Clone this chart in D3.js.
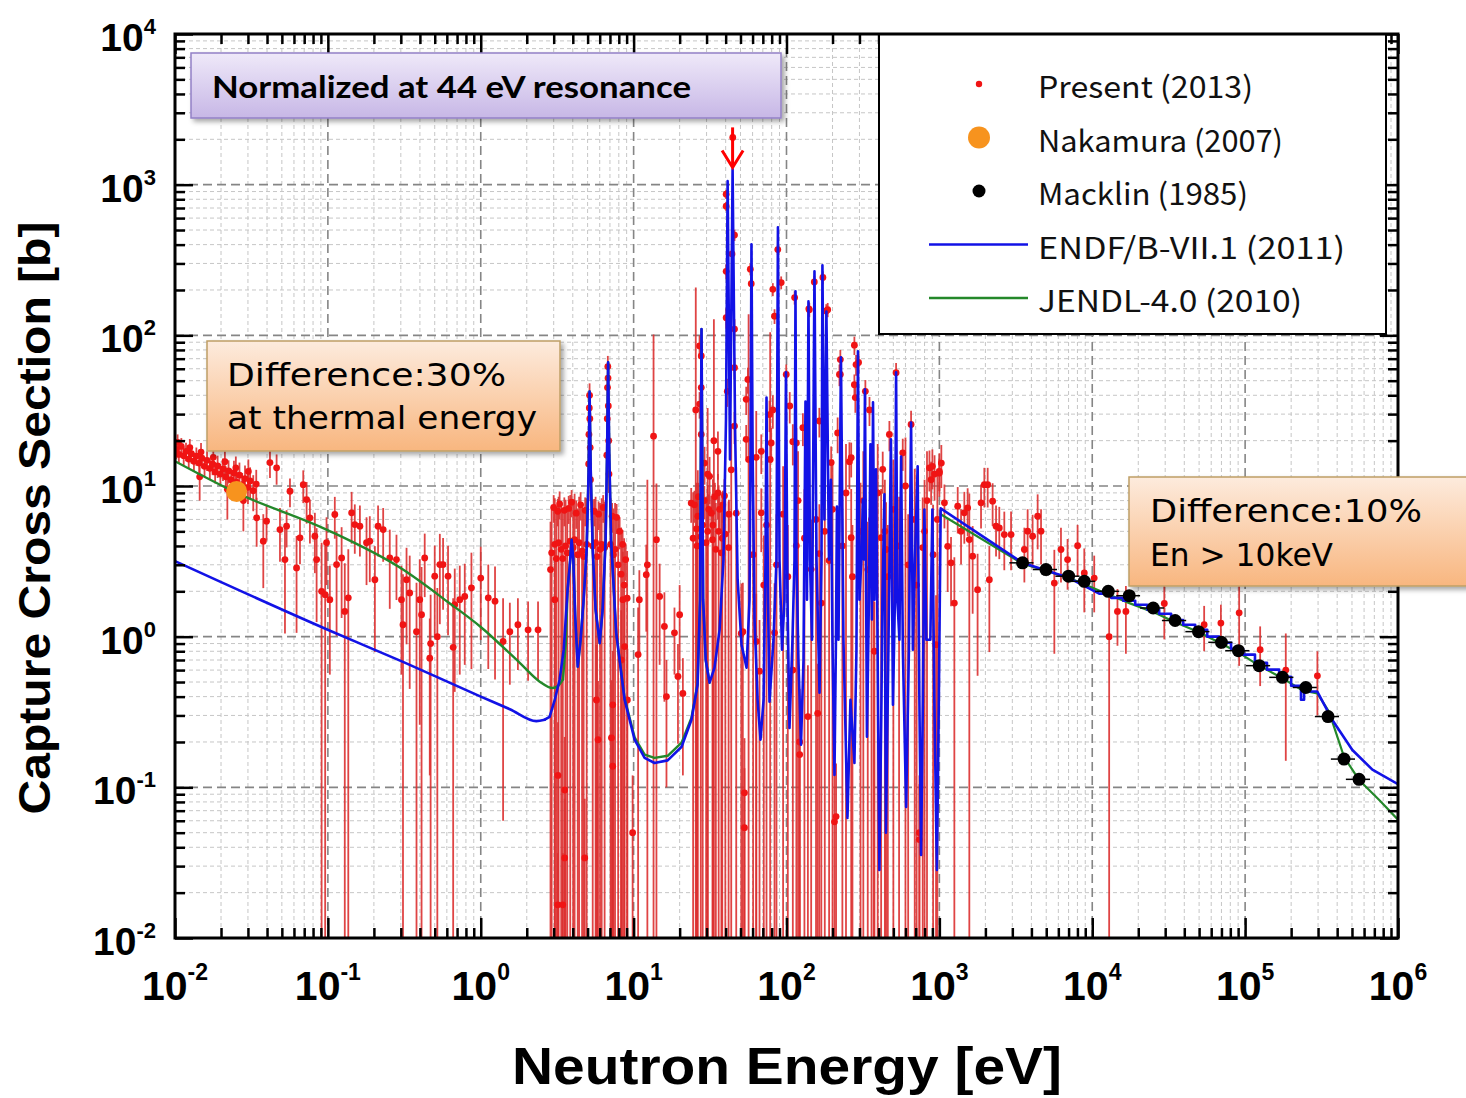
<!DOCTYPE html>
<html>
<head>
<meta charset="utf-8">
<script src="https://cdn.jsdelivr.net/npm/d3@7"></script>
<style>
  html, body { margin: 0; padding: 0; background: #fff; }
  svg { display: block; }
</style>
</head>
<body>
<svg id="chart" width="1466" height="1098"></svg>
<script>
// ---------------- Axis ticks ----------------
const xMajor = [1e-2, 1e-1, 1e0, 1e1, 1e2, 1e3, 1e4, 1e5, 1e6];
const xExp   = ["-2", "-1", "0", "1", "2", "3", "4", "5", "6"];
const yMajor = [1e-2, 1e-1, 1e0, 1e1, 1e2, 1e3, 1e4];
const yExp   = ["-2", "-1", "0", "1", "2", "3", "4"];

// ---------------- Present (2013): [energy eV, sigma b, error b] ----------------
const presentThermal = [
  [0.0102,17.5,2.5],[0.0104,19.5,2.5],[0.0106,16.2,2.2],[0.0110,18.3,2.5],[0.0114,15.9,2.2],
  [0.0118,17.0,2.4],[0.0123,15.1,2.0],[0.0125,18.0,2.5],[0.0128,16.4,2.3],[0.0133,14.6,2.0],
  [0.0138,15.8,2.2],[0.0144,14.2,2.0],[0.0145,11.5,3.5],[0.0148,16.8,2.5],[0.0150,15.3,2.2],
  [0.0156,13.5,2.0],[0.0162,14.8,2.2],[0.0169,13.1,2.0],[0.0176,14.0,2.2],[0.0178,15.5,2.5],
  [0.0183,12.4,2.0],[0.0190,13.6,2.3],[0.0198,12.0,2.0],[0.0206,13.0,2.2],[0.0212,14.5,2.5],
  [0.0215,11.5,2.0],[0.0220,9.5,3.5],[0.0224,12.6,2.2],[0.0233,11.0,2.0],[0.0243,12.2,2.5],
  [0.0250,13.2,2.5],[0.0253,10.6,2.0],[0.0264,11.8,2.5],[0.0275,10.2,2.0],[0.0280,8.0,3.0],
  [0.0287,11.2,2.5],[0.0300,9.8,2.2],[0.0302,12.5,2.5],[0.0310,10.8,2.5],[0.0325,9.3,2.5],
  [0.0340,10.3,2.5],
  [0.0342,6.15,2.2],[0.0378,4.30,2.2],[0.0397,5.84,1.5],[0.0418,14.3,3],[0.0462,13.2,3],
  [0.0486,5.14,2],[0.0524,3.25,2.2],[0.0537,5.41,1.5],[0.0565,9.23,2],[0.0624,2.86,1.8],
  [0.0657,4.53,1.5],[0.069,10.2,2.5],[0.0726,8.13,2.5],[0.0763,6.15,2],[0.0822,4.64,2],
  [0.0844,3.25,2],[0.091,2.0,2.2],[0.096,1.9,2.1],[0.098,4.2,2],[0.103,1.76,1.2],[0.111,6.47,2],
  [0.114,3.01,2],[0.123,3.33,2],[0.129,1.47,1.6],[0.136,1.81,2.0],[0.143,6.64,2.5],
  [0.150,5.55,2],[0.162,5.41,2],[0.179,4.2,2],[0.188,4.30,2],[0.203,2.39,1.6],[0.213,5.41,2],
  [0.230,5.14,2],[0.254,3.33,1.8],[0.281,3.25,1.5],[0.303,1.76,1.2],[0.31,1.2,1.4],
  [0.327,2.39,1.5],[0.343,1.95,1.5],[0.380,1.08,1.2],[0.399,1.76,1.5],[0.41,1.4,1.5],
  [0.430,3.33,1.5],[0.464,0.72,0.6],[0.47,0.9,1.0],[0.500,2.52,1.5],[0.52,1.0,1.1],
  [0.540,3.01,1.8],[0.567,3.01,1.5],[0.611,2.52,1.5],[0.66,0.85,0.95],[0.676,1.63,1.2],
  [0.729,1.76,1.2],[0.786,1.85,1.2],[0.869,2.11,1.5],[1.00,2.45,1.5],[1.12,1.81,1.2],
  [1.24,1.72,1.2],[1.40,0.93,0.87],[1.55,1.08,0.6],[1.75,1.20,0.6],[2.04,1.11,0.6],[2.37,1.11,0.6]
];

const presentResolved = [
  // 3 - 9 eV
  [2.91,3.6,3.7],[3.0,7.2,1.5],[3.05,4.1,4.2],[3.12,3.3,3.4],[3.19,6.8,1.4],[3.23,4.2,4.3],
  [3.28,7.6,1.6],[3.36,3.8,3.9],[3.44,3.3,3.4],[3.52,6.9,1.5],[3.59,4.0,4.1],[3.68,3.6,3.7],
  [3.76,7.1,1.5],[3.85,4.3,4.4],[3.93,7.8,1.6],[4.02,3.9,4.0],[4.11,4.4,4.5],[4.21,6.6,1.4],
  [4.31,3.5,3.6],[4.4,4.2,4.3],[4.5,7.5,1.6],[4.6,3.7,3.8],[4.71,3.4,3.5],[4.82,6.9,1.5],
  [4.93,4.1,4.2],[5.40,4.0,4.1],[5.52,6.8,1.4],[5.64,4.2,4.3],[5.77,3.4,3.5],[5.90,6.5,1.4],
  [6.03,3.8,3.9],[6.18,4.1,4.2],[6.32,7.2,1.5],[6.46,3.9,4.0],[7.07,4.1,4.2],[7.23,6.3,1.4],
  [7.39,3.5,3.6],[7.56,3.8,3.9],[7.74,6.2,1.4],[7.92,3.0,3.1],[8.10,5.0,1.2],[8.28,2.6,2.7],
  [8.47,4.1,1.0],[8.67,2.2,2.3],[8.87,3.25,0.9],[9.07,1.8,1.9],
  [5.08,14,4],[5.1,22,5],[5.13,33,7],[5.15,40,8],[5.17,28,6],[5.2,18,4],[5.22,11,3],
  [6.68,16,4],[6.72,28,6],[6.75,45,9],[6.78,62,11],[6.8,52,9],[6.83,34,7],[6.87,20,5],[6.9,12,3],
  [3.2,0.12,0.15],[3.54,0.096,0.12],[3.54,0.034,0.05],[3.19,0.0166,0.02],[3.44,0.0166,0.02],
  [4.79,0.034,0.05],[5.71,0.38,0.5],[5.85,0.207,0.3],[7.3,0.353,0.45],[7.3,0.138,0.2],
  [7.16,0.213,0.3],[8.3,0.70,0.8],[8.73,0.86,0.9],[8.5,1.76,1.9],[9.1,0.38,0.45],
  [9.85,0.05,0.07],[2.86,2.79,3],[3.05,1.76,2],
  // 10 - 25 eV
  [10.7,0.76,0.8],[10.9,1.76,1.0],[12.1,2.58,1.5],[12.3,3.0,8],[13.5,21.4,80],[14.1,4.4,6],
  [14.8,1.85,1.2],[15.9,1.17,0.8],[16.4,0.40,0.3],[18.5,1.06,0.5],[20.0,1.40,0.8],
  [19.5,0.545,0.35],[21.0,0.42,0.3],
  // 24 - 47 eV
  [27.0,85,15],[27.7,73,12],[27.7,45,8],[27.0,35,7],[27.7,22,5],[29.1,14.2,4],[31.4,11.6,4],
  [35.6,17,6],[35.6,9,3],[26.3,6.3,6.4],[23.8,7.7,2],[32.2,6.6,2],[25.5,32,176],[30.5,12,21],
  [33.5,20,108],
  [24.5,4.5,4.6],[25.0,7.5,1.8],[25.8,5.2,5.3],[26.0,4.0,4.1],[26.5,8.5,2],[27.5,4.6,4.7],
  [28.3,5.5,5.6],[29.0,8.0,2],[29.8,4.2,4.3],[30.5,5.0,5.1],[31.0,7.0,1.8],[32.8,4.4,4.5],
  [33.0,5.5,5.6],[34.0,8.5,2],[34.5,3.8,3.9],[36.0,5.0,5.1],[36.5,7.0,1.8],[37.5,3.6,3.7],
  [38.0,4.5,4.6],[38.3,7.5,1.8],[39.8,4.8,4.9],[41.8,3.9,4.0],[42.0,6.5,1.6],
  [40.3,864,60],[40.3,720,50],[40.3,266,30],[40.3,131,20],[41.0,42.5,9],[45.7,463,40],
  [45.7,110,18],[45.7,61,10],[45.7,25,6],[43.5,12.8,13],[39.3,8.6,2.5],[46.9,6.6,6.7],
  [44.5,2060,150],[44.0,347,35],
  // 50 - 1000 eV
  [58.0,275,25],[58.8,220,22],[55.9,51,10],[81.4,202,20],[83.5,134,15],[87.7,371,30],
  [92.3,224,22],[99.6,55,9],[113,178,18],[140,150,16],[152,226,22],[173,242,24],[182,145,16],
  [225,69,11],[225,55,9],[278,86,12],[296,66,10],[278,47,8],[328,42.5,8],[521,56.5,9],
  [54.5,37.6,8],[54.5,20.4,5],[68.4,17,5],[68.4,6.64,3],[77.4,29.8,7],[79.4,19.3,5],
  [105,34,8],[116,19.3,5],[128,24.4,6],[141,148,16],[164,27,6],[186,148,16],[196,14.3,4],
  [216,22.5,6],[222,55,9],[265,15.4,4],[285,64,10],[282,38.6,8],[349,32,7],[426,12.9,4],
  [471,22,5],[576,16.6,4],[653,25.6,6],[861,13.2,4],[883,11,3.5],[900,13.5,4],[930,12,4],
  [51.8,1.08,1.2],[63.4,0.93,1.0],[66.6,0.59,0.7],[53.1,0.092,0.12],[53.1,0.054,0.08],
  [83.5,1.06,1.2],[110,0.60,0.7],[138,0.295,0.35],[160,0.31,0.35],[122,0.20,0.25],
  [122,0.165,0.2],[169,1.67,1.8],[211,0.064,0.08],[376,0.80,0.9],[951,0.885,1.0],
  [740,0.05,0.07],
  [50.6,1.05,1.2],[63.4,15.5,16],[81.4,32,8],[110,19.7,6],[116,4.02,4.5],[164,3.56,4],
  [206,0.059,0.08],[258,14.5,5],[265,4.54,5],[340,2.79,3],[416,4.54,5],[448,3.79,4],
  [740,0.045,0.06],[778,3.9,4.5],[56.5,15,123],[78.2,15,90],
  [60.5,3.5,4],[71,2.2,2.5],[74,5.5,6],[86,3.0,3.5],[95,6.5,7],[102,2.5,3],[119,8,9],
  [131,4.5,5],[145,2.8,3.2],[156,6,7],[178,5,5.5],[190,3.2,3.6],[200,7,8],[232,4,4.5],
  [245,9,10],[270,2.5,3],[305,5,5.5],[318,8,9],[360,6,7],[372,3,3.5],[395,9,10],[440,5,6],
  [460,2.5,3],[500,7,8],[545,4,4.5],[600,10,11],[625,3,3.5],[690,6,7],[710,2.2,2.5],
  [800,5,6],[830,8,9],[910,3.5,4],[970,6,7]
];

const presentUnresolved = [
  [1000,12.2,3],[1000,12.5,4],[1030,14.2,4.5],[1079,7.73,2.5],[1133,3.98,2],[1192,3.09,1.5],
  [1253,1.67,1.7],[1318,7.34,2.5],[1386,5.01,2],[1456,6.64,2.5],[1531,7.16,2.5],
  [1570,4.41,4.5],[1651,3.42,2],[1778,2.05,1.5],[1873,7.73,2.5],[1968,10.2,3],[2070,10.2,3],
  [2123,2.39,1.6],[2230,7.93,2.5],[2348,5.41,2],[2466,5.27,2],[2659,4.76,2],[2944,4.76,2],
  [3597,3.79,1.5],[3779,5.01,2],[4073,4.64,1.8],[4394,6.3,2.5],[4624,5.01,2],[5649,2.27,1.5],
  [6243,3.79,1.5],[6896,3.25,1.2],[8020,4.02,1.5],[8870,2.65,1.2],[10300,2.45,1.0],
  [12900,1.0,1.05],[14620,1.47,0.6],[16600,1.47,0.7],[29600,1.66,0.7],[53950,1.20,0.4],
  [69400,1.23,0.4],[91400,1.44,0.8],[125400,0.82,0.35],[184500,0.60,0.45],[297000,0.55,0.25]
];

// ---------------- Nakamura (2007) thermal value ----------------
const nakamura = [[0.0253, 9.2]];

// ---------------- Macklin (1985): [energy eV, sigma b, half bin width eV] ----------------
const macklin = [
  [3499,3.09,630],[4980,2.79,900],[7000,2.52,1260],[8870,2.33,1600],[12730,2.0,2300],
  [17450,1.87,3100],[25050,1.55,4500],[34850,1.28,6300],[49550,1.08,8900],[70000,0.917,12600],
  [90400,0.807,16300],[123600,0.642,22200],[175400,0.537,31600],[249400,0.46,44900],
  [348600,0.295,62700],[443600,0.154,79800],[556000,0.113,100000]
];

// ---------------- ENDF/B-VII.1 (2011): [energy eV, sigma b] ----------------
const endfThermal = [
  [0.01,3.17],[0.098,1.12],[0.31,0.68],[1.0,0.40],[1.55,0.33],[2.31,0.275]
];
const endfResolved = [
  [2.62,0.281],[2.82,0.294],[3.05,0.381],[3.28,0.518],[3.49,0.82],[3.70,2.05],[3.85,3.25],
  [3.93,4.4],[4.03,3.25],[4.15,1.36],[4.31,0.632],[4.50,0.955],[4.71,1.76],[4.93,3.78],
  [5.08,12.9],[5.15,42.4],[5.24,12.9],[5.40,3.78],[5.64,1.51],[6.00,0.906],[6.27,1.51],
  [6.56,4.4],[6.71,17.5],[6.81,66.2],[6.92,17.5],[7.12,4.4],[7.69,1.06],[8.73,0.381],
  [10.15,0.207],[11.8,0.157],[13.7,0.145],[16.7,0.151],[20.6,0.186],[23.9,0.281],[26.2,0.48],
  [27.2,1.76],[27.8,110],[28.5,1.76],[29.6,0.703],[31.4,0.495],[33.8,0.622],[36.5,1.11],
  [38.7,3.25],[40.2,27.7],[41.2,1055],[42.7,15.0],[44.4,1268],[46.1,23.7],[47.9,2.39],
  [50.8,0.885],[54.8,0.622],[57.3,1.76],[58.2,17.5],[59.0,402],[60.0,17.5],[61.8,1.30],
  [64.7,0.381],[67.6,0.207],[70.8,0.381],[72.9,3.25],[74.0,38.7],[75.7,1.76],[77.4,0.37],
  [82.2,0.955],[86.0,3.25],[87.9,522],[90.0,3.25],[93.5,0.82],[97.0,1.76],[99.2,56.8],
  [101.5,1.76],[104.6,0.248],[109.4,0.955],[112.8,3.25],[114.5,196],[116.2,3.25],[119.7,0.703],
  [124.4,0.192],[129.2,0.703],[133.1,36.4],[136.1,1.76],[139.2,168],[142.4,3.25],[146.8,0.955],
  [152.4,266],[157.1,3.25],[164.4,0.425],[169.4,3.25],[171.8,292],[177,5.99],[182.4,144],
  [189.6,3.25],[195.4,11.0],[199.8,0.955],[206,0.121],[210.6,0.955],[213.8,7.31],[218.8,0.955],
  [227.1,71.4],[235.8,0.955],[250.5,0.0627],[262,0.381],[278.2,0.145],[286.8,0.82],[293.3,78.3],
  [300,1.76],[309,3.25],[316,8.13],[321,3.25],[326,43.8],[336,0.217],[346,1.76],[354,18.9],
  [362,1.30],[368,35.9],[376,1.76],[385,12.9],[393,1.30],[405,0.0283],[418,0.381],[424,1.76],
  [437,8.8],[447,0.050],[464,0.82],[482,20.4],[497,0.353],[512,1.76],[521,56.8],[531,1.76],
  [548,0.955],[562,15.7],[577,0.82],[606,0.0741],[632,0.82],[653,26.4],[671,0.82],[692,3.25],
  [721,13.5],[740,0.381],[759,0.0356],[780,0.381],[798,6.98],[822,0.955],[873,0.955],
  [900,6.98],[927,0.381],[963,0.0283],[992,0.381]
];
const endfUnresolved = [
  [1020,7.1],[3500,3.09],[7080,2.45],[11100,1.93],
  [13300,1.93],[13300,1.81],[15950,1.81],[15950,1.73],[19100,1.73],[19100,1.63],
  [22900,1.63],[22900,1.51],[27400,1.51],[27400,1.42],[32800,1.42],[32800,1.29],
  [39300,1.29],[39300,1.20],[47100,1.20],[47100,1.11],[56500,1.11],[56500,1.0],
  [67600,1.0],[67600,0.912],[80900,0.912],[80900,0.832],[97000,0.832],[97000,0.76],
  [116000,0.76],[116000,0.672],[139000,0.672],[139000,0.604],[167000,0.604],[167000,0.542],
  [200000,0.542],[200000,0.472],[232000,0.472],[232000,0.381],[243000,0.381],[243000,0.433],
  [296000,0.433],[372000,0.28],[503000,0.177],[680000,0.131],[1000000,0.105]
];

// ---------------- JENDL-4.0 (2010): [energy eV, sigma b] ----------------
const jendlThermal = [
  [0.01,14.6],[0.0253,9.0],[0.098,5.14],[0.31,2.79],[0.6,1.72],[1.0,1.16],[1.8,0.67],
  [2.43,0.503],[2.95,0.456],[3.2,0.47],[3.45,0.52]
];
const jendlResolved = [
  [3.45,0.52],[3.6,0.9],[3.70,2.05],[3.85,3.25],[3.93,4.4],[4.03,3.25],
  [4.15,1.36],[4.31,0.632],[4.50,0.955],[4.71,1.76],[4.93,3.78],[5.08,12.9],[5.15,42.4],
  [5.24,12.9],[5.40,3.78],[5.64,1.51],[6.00,0.906],[6.27,1.51],[6.56,4.4],[6.71,17.5],
  [6.81,66.2],[6.92,17.5],[7.12,4.4],[7.69,1.06],[8.73,0.39],[10.15,0.215],[11.8,0.165],
  [13.7,0.157],[16.7,0.162],[20.6,0.198],[23.9,0.29],[26.2,0.49],[27.2,1.76],[27.8,110],
  [28.5,1.76],[29.6,0.703],[31.4,0.495]
];
const jendlUnresolved = [
  [1020,6.5],[3500,3.05],[7080,2.45],[12900,1.9],[17500,1.67],[26100,1.43],[35200,1.24],
  [50000,1.07],[71100,0.89],[91400,0.78],[124000,0.64],[175500,0.53],[237000,0.44],
  [297000,0.42],[354000,0.317],[444000,0.159],[556000,0.112],[751000,0.0826],[1000000,0.061]
];

// ---------------- Annotation text ----------------
const legendLabels = ["Present (2013)", "Nakamura (2007)", "Macklin (1985)", "ENDF/B-VII.1 (2011)", "JENDL-4.0 (2010)"];
const normText = "Normalized at 44 eV resonance";
const noteThermal = ["Difference:30%", "at thermal energy"];
const noteFast = ["Difference:10%", "En > 10keV"];
const arrowE = 44.4;           // energy of the normalization resonance
const arrowSigma = [2400, 1300];

// =====================================================================
const svg = d3.select("#chart");
const L = 175, R = 1398, T = 34, B = 938;
const x = d3.scaleLog().domain([1e-2, 1e6]).range([L, R]);
const y = d3.scaleLog().domain([1e-2, 1e4]).range([B, T]);

const C = {
  red: "#f01414", redBar: "#dc3030", blue: "#1212e6", green: "#24882a",
  orange: "#f7931e", black: "#000"
};
const tickFont = "'Liberation Sans', Arial, Helvetica, sans-serif";

svg.append("rect").attr("width", 1466).attr("height", 1098).attr("fill", "#fff");

const defs = svg.append("defs");
defs.append("clipPath").attr("id", "plotClip")
  .append("rect").attr("x", L).attr("y", T).attr("width", R - L).attr("height", B - T);
const shadow = defs.append("filter").attr("id", "shadow")
  .attr("x", "-10%").attr("y", "-20%").attr("width", "130%").attr("height", "150%");
shadow.append("feDropShadow").attr("dx", 3).attr("dy", 3).attr("stdDeviation", 2.5)
  .attr("flood-color", "#000").attr("flood-opacity", 0.35);
function vGrad(id, c0, c1) {
  const g = defs.append("linearGradient").attr("id", id)
    .attr("x1", 0).attr("y1", 0).attr("x2", 0).attr("y2", 1);
  g.append("stop").attr("offset", "0%").attr("stop-color", c0);
  g.append("stop").attr("offset", "100%").attr("stop-color", c1);
}
vGrad("gradViolet", "#efe9f9", "#c7b7e6");
vGrad("gradPeach", "#fdebdd", "#f8b67f");

// minor tick positions (2..9 in every decade)
const minorX = [], minorY = [];
for (let e = -2; e < 6; e++) for (let k = 2; k <= 9; k++) minorX.push(k * Math.pow(10, e));
for (let e = -2; e < 4; e++) for (let k = 2; k <= 9; k++) minorY.push(k * Math.pow(10, e));

// ---------------- grid ----------------
const grid = svg.append("g");
function vGrid(vals, color, w, dash) {
  grid.append("g").selectAll("line").data(vals).join("line")
    .attr("x1", d => x(d)).attr("x2", d => x(d)).attr("y1", T).attr("y2", B)
    .attr("stroke", color).attr("stroke-width", w).attr("stroke-dasharray", dash);
}
function hGrid(vals, color, w, dash) {
  grid.append("g").selectAll("line").data(vals).join("line")
    .attr("y1", d => y(d)).attr("y2", d => y(d)).attr("x1", L).attr("x2", R)
    .attr("stroke", color).attr("stroke-width", w).attr("stroke-dasharray", dash);
}
vGrid(minorX, "#c6c6c6", 1, "4,3");
hGrid(minorY, "#c6c6c6", 1, "4,3");
vGrid(xMajor.slice(1, -1), "#858585", 1.6, "9,5");
hGrid(yMajor.slice(1, -1), "#858585", 1.6, "9,5");

// ---------------- data ----------------
const data = svg.append("g").attr("clip-path", "url(#plotClip)");
const present = presentThermal.concat(presentResolved, presentUnresolved);

data.append("g").selectAll("line").data(present).join("line")
  .attr("x1", d => x(d[0])).attr("x2", d => x(d[0]))
  .attr("y1", d => y(Math.min(d[1] + d[2], 1e4)))
  .attr("y2", d => (d[1] - d[2] > 1e-2 ? y(d[1] - d[2]) : B))
  .attr("stroke", C.redBar).attr("stroke-width", 1.8).attr("stroke-opacity", 0.9);
data.append("g").selectAll("circle").data(present).join("circle")
  .attr("cx", d => x(d[0])).attr("cy", d => y(d[1])).attr("r", 3.4)
  .attr("fill", C.red);

const line = d3.line().x(d => x(d[0])).y(d => y(d[1]));
const smooth = d3.line().x(d => x(d[0])).y(d => y(d[1])).curve(d3.curveMonotoneX);
function drawPath(pts, gen, color, w) {
  data.append("path").datum(pts).attr("d", gen)
    .attr("fill", "none").attr("stroke", color).attr("stroke-width", w)
    .attr("stroke-linejoin", "round").attr("stroke-linecap", "round");
}
drawPath(jendlThermal, smooth, C.green, 2.4);
drawPath(jendlResolved, line, C.green, 2.4);
drawPath(jendlUnresolved, line, C.green, 2.2);
drawPath(endfThermal.concat([endfResolved[0]]), smooth, C.blue, 2.6);
drawPath(endfResolved.concat(endfUnresolved), line, C.blue, 2.6);

// Macklin with energy bins
data.append("g").selectAll("line").data(macklin).join("line")
  .attr("x1", d => x(d[0] - d[2])).attr("x2", d => x(d[0] + d[2]))
  .attr("y1", d => y(d[1])).attr("y2", d => y(d[1]))
  .attr("stroke", C.black).attr("stroke-width", 1.5);
data.append("g").selectAll("circle").data(macklin).join("circle")
  .attr("cx", d => x(d[0])).attr("cy", d => y(d[1])).attr("r", 6.5).attr("fill", C.black);

// Nakamura thermal point
data.append("g").selectAll("circle").data(nakamura).join("circle")
  .attr("cx", d => x(d[0])).attr("cy", d => y(d[1])).attr("r", 10.5).attr("fill", C.orange);

// ---------------- ticks (inward) ----------------
function styleAxis(g) {
  g.select(".domain").remove();
  g.selectAll(".tick line").attr("stroke", "#000").attr("stroke-width", 2.5);
  g.selectAll(".tick text").remove();
}
const axes = svg.append("g");
axes.append("g").attr("transform", `translate(0,${B})`)
  .call(d3.axisBottom(x).tickValues(minorX).tickSize(-10).tickFormat("")).call(styleAxis);
axes.append("g").attr("transform", `translate(0,${B})`)
  .call(d3.axisBottom(x).tickValues(xMajor).tickSize(-20).tickFormat("")).call(styleAxis);
axes.append("g").attr("transform", `translate(0,${T})`)
  .call(d3.axisTop(x).tickValues(minorX).tickSize(-10).tickFormat("")).call(styleAxis);
axes.append("g").attr("transform", `translate(0,${T})`)
  .call(d3.axisTop(x).tickValues(xMajor).tickSize(-20).tickFormat("")).call(styleAxis);
axes.append("g").attr("transform", `translate(${L},0)`)
  .call(d3.axisLeft(y).tickValues(minorY).tickSize(-10).tickFormat("")).call(styleAxis);
axes.append("g").attr("transform", `translate(${L},0)`)
  .call(d3.axisLeft(y).tickValues(yMajor).tickSize(-18).tickFormat("")).call(styleAxis);
axes.append("g").attr("transform", `translate(${R},0)`)
  .call(d3.axisRight(y).tickValues(minorY).tickSize(-10).tickFormat("")).call(styleAxis);
axes.append("g").attr("transform", `translate(${R},0)`)
  .call(d3.axisRight(y).tickValues(yMajor).tickSize(-18).tickFormat("")).call(styleAxis);

// ---------------- legend ----------------
const lg = svg.append("g");
lg.append("rect").attr("x", 879).attr("y", T).attr("width", 507).attr("height", 300)
  .attr("fill", "#fff").attr("stroke", "#000").attr("stroke-width", 2);
const rowY = [84, 137.5, 191, 244.5, 298];
const lblW = [215, 245, 210, 307, 264];
lg.append("circle").attr("cx", 979).attr("cy", rowY[0]).attr("r", 3.2).attr("fill", C.red);
lg.append("circle").attr("cx", 979).attr("cy", rowY[1]).attr("r", 11).attr("fill", C.orange);
lg.append("circle").attr("cx", 979).attr("cy", rowY[2]).attr("r", 6.5).attr("fill", C.black);
lg.append("line").attr("x1", 929).attr("x2", 1028).attr("y1", rowY[3]).attr("y2", rowY[3])
  .attr("stroke", C.blue).attr("stroke-width", 2.6);
lg.append("line").attr("x1", 929).attr("x2", 1028).attr("y1", rowY[4]).attr("y2", rowY[4])
  .attr("stroke", C.green).attr("stroke-width", 2.6);
lg.selectAll("text").data(legendLabels).join("text")
  .attr("x", 1038).attr("y", (d, i) => rowY[i] + 14)
  .attr("font-family", "'Noto Sans CJK JP', 'DejaVu Sans', sans-serif")
  .attr("font-size", 30).attr("fill", "#111")
  .attr("textLength", (d, i) => lblW[i]).attr("lengthAdjust", "spacingAndGlyphs")
  .text(d => d);

// ---------------- frame ----------------
svg.append("rect").attr("x", L).attr("y", T).attr("width", R - L).attr("height", B - T)
  .attr("fill", "none").attr("stroke", "#000").attr("stroke-width", 3);

// ---------------- annotation boxes ----------------
const ann = svg.append("g");
ann.append("rect").attr("x", 191).attr("y", 53).attr("width", 590).attr("height", 65)
  .attr("fill", "url(#gradViolet)").attr("stroke", "#9380c6").attr("stroke-width", 1.5)
  .attr("filter", "url(#shadow)");
ann.append("text").attr("x", 212).attr("y", 97.5)
  .attr("font-family", "Lato, 'Open Sans', sans-serif").attr("font-weight", "bold")
  .attr("font-size", 31).attr("fill", "#000")
  .attr("textLength", 479).attr("lengthAdjust", "spacingAndGlyphs").text(normText);

const noteFont = "'DejaVu Sans', 'Noto Sans', sans-serif";
ann.append("rect").attr("x", 207).attr("y", 341).attr("width", 353).attr("height", 110)
  .attr("fill", "url(#gradPeach)").attr("stroke", "#bf9f66").attr("stroke-width", 1.5)
  .attr("filter", "url(#shadow)");
ann.selectAll("text.nt").data(noteThermal).join("text").attr("class", "nt")
  .attr("x", 227).attr("y", (d, i) => [386, 429][i])
  .attr("font-family", noteFont).attr("font-size", 32).attr("fill", "#000")
  .attr("textLength", (d, i) => [279, 310][i]).attr("lengthAdjust", "spacingAndGlyphs")
  .text(d => d);

ann.append("rect").attr("x", 1129).attr("y", 477).attr("width", 350).attr("height", 109)
  .attr("fill", "url(#gradPeach)").attr("stroke", "#bf9f66").attr("stroke-width", 1.5)
  .attr("filter", "url(#shadow)");
ann.selectAll("text.nf").data(noteFast).join("text").attr("class", "nf")
  .attr("x", 1150).attr("y", (d, i) => [522, 566][i])
  .attr("font-family", noteFont).attr("font-size", 32).attr("fill", "#000")
  .attr("textLength", (d, i) => [272, 183][i]).attr("lengthAdjust", "spacingAndGlyphs")
  .text(d => d);

// arrow marking the normalization resonance
const ax = x(arrowE), ay0 = y(arrowSigma[0]), ay1 = y(arrowSigma[1]);
ann.append("line").attr("x1", ax).attr("x2", ax).attr("y1", ay0).attr("y2", ay1)
  .attr("stroke", "#ff0000").attr("stroke-width", 3);
ann.append("polyline")
  .attr("points", `${ax - 10.5},${ay1 - 17} ${ax},${ay1} ${ax + 10.5},${ay1 - 17}`)
  .attr("fill", "none").attr("stroke", "#ff0000").attr("stroke-width", 3)
  .attr("stroke-linejoin", "miter");

// ---------------- tick labels ----------------
const labs = svg.append("g").attr("font-family", tickFont).attr("font-weight", "bold").attr("fill", "#000");
labs.append("g").selectAll("text").data(xMajor).join("text")
  .attr("x", d => x(d)).attr("y", 1000).attr("text-anchor", "middle").attr("font-size", 41)
  .each(function (d, i) {
    const t = d3.select(this);
    t.append("tspan").text("10");
    t.append("tspan").attr("dy", -20).attr("font-size", 23).text(xExp[i]);
  });
labs.append("g").selectAll("text").data(yMajor).join("text")
  .attr("x", 156).attr("y", d => y(d) + 17).attr("text-anchor", "end").attr("font-size", 39)
  .each(function (d, i) {
    const t = d3.select(this);
    t.append("tspan").text("10");
    t.append("tspan").attr("dy", -17).attr("font-size", 22).text(yExp[i]);
  });

// axis titles
svg.append("text").attr("transform", "translate(50,518) rotate(-90)")
  .attr("text-anchor", "middle").attr("font-family", tickFont).attr("font-weight", "bold")
  .attr("font-size", 45).attr("fill", "#000")
  .attr("textLength", 593).attr("lengthAdjust", "spacingAndGlyphs")
  .text("Capture Cross Section [b]");
svg.append("text").attr("x", 787).attr("y", 1084)
  .attr("text-anchor", "middle").attr("font-family", tickFont).attr("font-weight", "bold")
  .attr("font-size", 52).attr("fill", "#000")
  .attr("textLength", 550).attr("lengthAdjust", "spacingAndGlyphs")
  .text("Neutron Energy [eV]");
</script>
</body>
</html>
